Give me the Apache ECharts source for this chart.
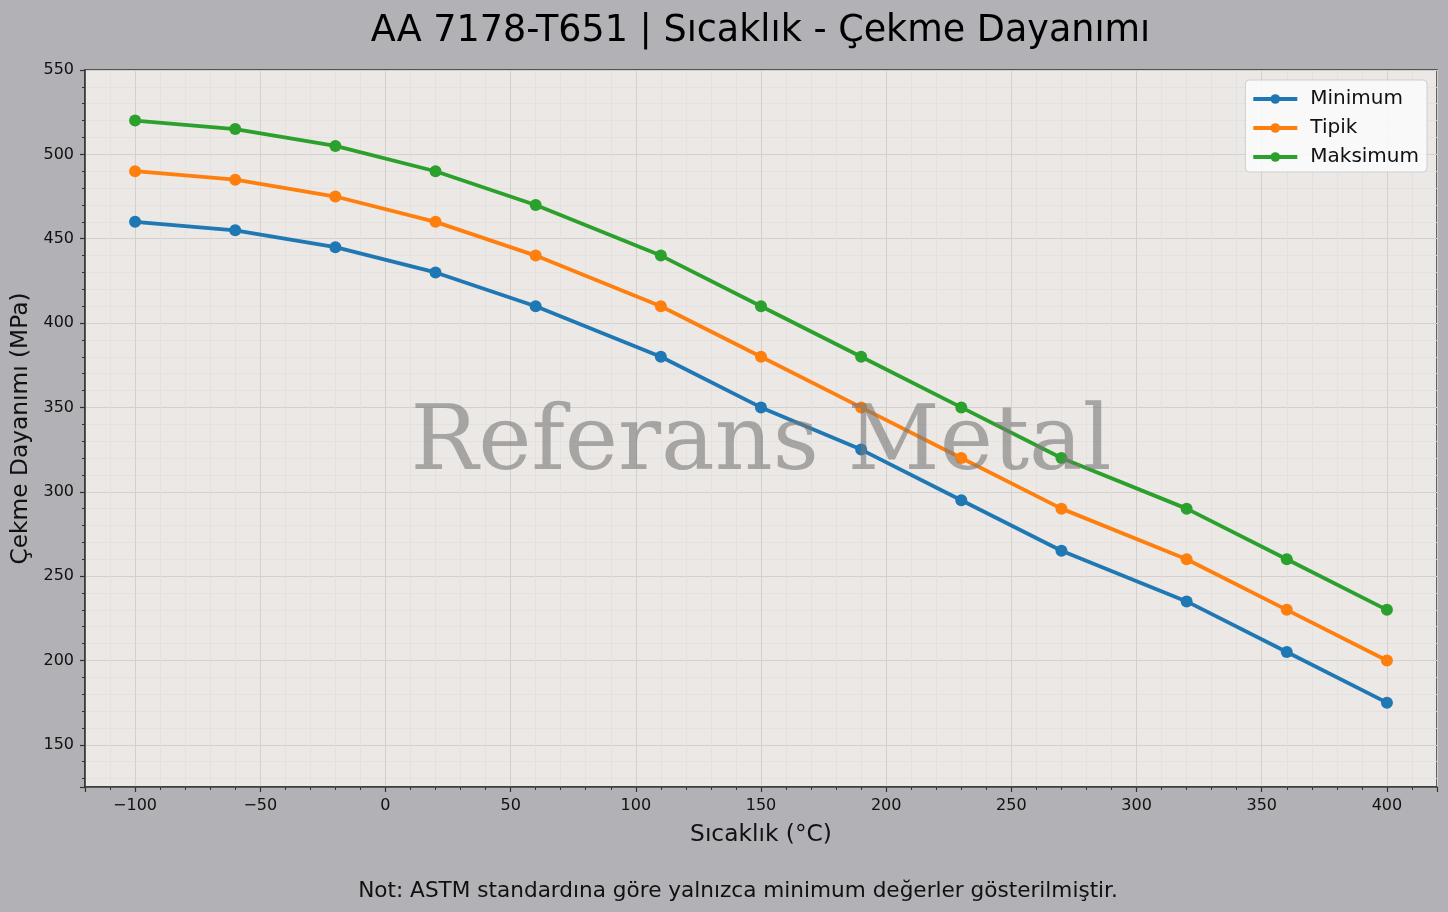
<!DOCTYPE html>
<html>
<head>
<meta charset="utf-8">
<script src="https://cdn.jsdelivr.net/npm/echarts@6/dist/echarts.min.js"></script>
<style>
html,body{margin:0;padding:0;background:#b1b1b6;}
#chart{width:1448px;height:912px;}
</style>
</head>
<body>
<div id="chart"></div>
<script>
const temperatures = [-100, -60, -20, 20, 60, 110, 150, 190, 230, 270, 320, 360, 400];
const minimumValues = [460, 455, 445, 430, 410, 380, 350, 325, 295, 265, 235, 205, 175];
const typicalValues = [490, 485, 475, 460, 440, 410, 380, 350, 320, 290, 260, 230, 200];
const maximumValues = [520, 515, 505, 490, 470, 440, 410, 380, 350, 320, 290, 260, 230];
const seriesNames = ['Minimum', 'Tipik', 'Maksimum'];
const seriesColors = ['#1f77b4', '#ff7f0e', '#2ca02c'];
const titleText = 'AA 7178-T651 | Sıcaklık - Çekme Dayanımı';
const xAxisName = 'Sıcaklık (°C)';
const yAxisName = 'Çekme Dayanımı (MPa)';
const noteText = 'Not: ASTM standardına göre yalnızca minimum değerler gösterilmiştir.';
const watermarkText = 'Referans Metal';

const FONT = 'DejaVu Sans';
const chart = echarts.init(document.getElementById('chart'), null, {renderer: 'canvas'});

function pairs(vals) { return temperatures.map((t, i) => [t, vals[i]]); }
const allSeries = [minimumValues, typicalValues, maximumValues].map((vals, i) => ({
  name: seriesNames[i],
  type: 'line',
  data: pairs(vals),
  symbol: 'circle',
  symbolSize: 12,
  showSymbol: true,
  lineStyle: {width: 3.8, color: seriesColors[i]},
  itemStyle: {color: seriesColors[i]},
  emphasis: {disabled: true},
  z: 3,
  animation: false
}));

const fmt = v => String(v).replace('-', '\u2212');

const gridL = 85, gridR = 11, gridT = 70, gridB = 125;

const option = {
  backgroundColor: '#b1b1b6',
  animation: false,
  title: [{
    text: titleText,
    left: 755.5, textAlign: 'center', top: 8,
    textStyle: {fontFamily: FONT, fontSize: 36.5, fontWeight: 'normal', color: '#000'}
  }, {
    text: noteText,
    left: 733, textAlign: 'center', top: 875,
    textStyle: {fontFamily: FONT, fontSize: 21.6, fontWeight: 'normal', color: '#111'}
  }],
  grid: {
    left: gridL, right: gridR, top: gridT, bottom: gridB,
    show: true, backgroundColor: '#ebe8e6', borderColor: '#333', borderWidth: 1.5,
    containLabel: false
  },
  legend: {
    orient: 'vertical',
    right: 21, top: 80,
    data: seriesNames,
    itemWidth: 44, itemHeight: 12, itemGap: 5,
    padding: [7, 8, 3, 6],
    backgroundColor: 'rgba(252,252,252,0.85)',
    borderColor: '#cfcfcf', borderWidth: 1, borderRadius: 4,
    lineStyle: {width: 3.8},
    textStyle: {fontFamily: FONT, fontSize: 20, color: '#111', lineHeight: 24, padding: [0, 0, 0, 8]}
  },
  xAxis: {
    type: 'value', min: -120, max: 420, minInterval: 50, maxInterval: 50, splitNumber: 10,
    name: xAxisName, nameLocation: 'middle', nameGap: 36,
    nameTextStyle: {fontFamily: FONT, fontSize: 23.3, color: '#111'},
    axisLine: {show: true, onZero: false, lineStyle: {color: '#333', width: 1.5}},
    axisTick: {show: true, length: 5, lineStyle: {color: '#333', width: 1.2}},
    minorTick: {show: true, splitNumber: 5, length: 3, lineStyle: {color: '#333', width: 1}},
    axisLabel: {showMinLabel: false, showMaxLabel: false, margin: 11, fontFamily: FONT, fontSize: 16, color: '#111', formatter: fmt},
    splitLine: {show: true, lineStyle: {color: '#d3d0ce', width: 1}},
    minorSplitLine: {show: true, lineStyle: {color: '#e2dfdd', width: 0.8}}
  },
  yAxis: {
    type: 'value', min: 125, max: 550, minInterval: 50, maxInterval: 50,
    name: yAxisName, nameLocation: 'middle', nameGap: 52,
    nameTextStyle: {fontFamily: FONT, fontSize: 23.3, color: '#111'},
    axisLine: {show: true, onZero: false, lineStyle: {color: '#333', width: 1.5}},
    axisTick: {show: true, length: 5, lineStyle: {color: '#333', width: 1.2}},
    minorTick: {show: true, splitNumber: 5, length: 3, lineStyle: {color: '#333', width: 1}},
    axisLabel: {showMinLabel: false, margin: 11, fontFamily: FONT, fontSize: 16, color: '#111', formatter: fmt},
    splitLine: {show: true, lineStyle: {color: '#d3d0ce', width: 1}},
    minorSplitLine: {show: true, lineStyle: {color: '#e2dfdd', width: 0.8}}
  },
  graphic: [{
    type: 'text',
    x: 761, y: 446,
    z: 100,
    silent: true,
    style: {
      text: watermarkText,
      fontFamily: 'DejaVu Serif', fontSize: 90,
      fill: 'rgba(120,120,120,0.6)',
      textAlign: 'center', textVerticalAlign: 'middle'
    }
  }],
  series: allSeries
};
chart.setOption(option);
</script>
</body>
</html>
